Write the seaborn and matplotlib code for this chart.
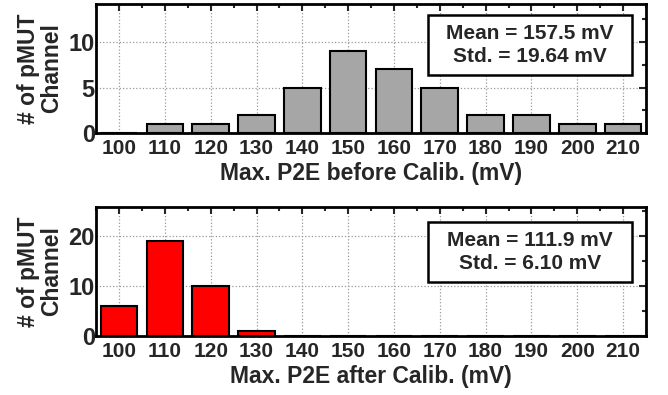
import matplotlib
matplotlib.use("Agg")
import matplotlib.pyplot as plt
from matplotlib.patches import Rectangle
from matplotlib.ticker import MultipleLocator
import seaborn as sns
import pandas as pd

# --- Data ---
bins_mv = [100, 110, 120, 130, 140, 150, 160, 170, 180, 190, 200, 210]
counts_before = [0, 1, 1, 2, 5, 9, 7, 5, 2, 2, 1, 1]
counts_after = [6, 19, 10, 1, 0, 0, 0, 0, 0, 0, 0, 0]
stats_before = "Mean = 157.5 mV\nStd. = 19.64 mV"
stats_after = "Mean = 111.9 mV\nStd. = 6.10 mV"

sns.set_style("white")
plt.rcParams['font.family'] = ['Liberation Sans', 'DejaVu Sans']
plt.rcParams['font.weight'] = 'bold'
plt.rcParams['axes.labelweight'] = 'bold'


def draw_panel(ax, counts, color, xlabel, ymax, ymajor, yminor, stats, box_y0):
    df = pd.DataFrame({'mv': bins_mv, 'n': counts})
    sns.barplot(data=df, x='mv', y='n', native_scale=True, width=0.8,
                color=color, edgecolor='black', linewidth=1.5,
                saturation=1, ax=ax)
    ax.set_xlim(95, 215)
    ax.set_ylim(0, ymax)
    ax.xaxis.set_major_locator(MultipleLocator(10))
    ax.xaxis.set_minor_locator(MultipleLocator(5))
    ax.yaxis.set_major_locator(MultipleLocator(ymajor))
    ax.yaxis.set_minor_locator(MultipleLocator(yminor))
    ax.grid(True, which='major', linestyle=':', color='#999999', linewidth=0.9)
    ax.set_axisbelow(True)
    ax.tick_params(which='both', direction='in', top=True, right=True, width=1.5)
    ax.tick_params(axis='x', labelsize=15, pad=4)
    ax.tick_params(axis='y', labelsize=17, pad=1)
    ax.tick_params(which='major', length=5)
    ax.tick_params(which='minor', length=3)
    for s in ax.spines.values():
        s.set_linewidth(2)
        s.set_color('black')
    ax.set_xlabel(xlabel, fontsize=16.5, labelpad=3)
    ax.set_ylabel("# of pMUT\nChannel", fontsize=16.5, labelpad=4,
                  linespacing=1.0)

    # stats box: white rectangle with the text centred in it
    bw, bh = 0.371, 0.465
    ax.add_patch(Rectangle((0.604, box_y0), bw, bh, transform=ax.transAxes,
                           facecolor='white', edgecolor='black',
                           linewidth=1.8, zorder=5))
    ax.text(0.604 + bw / 2, box_y0 + bh / 2, stats, transform=ax.transAxes,
            ha='center', va='center', fontsize=15, fontweight='bold',
            linespacing=1.25, zorder=6)


fig = plt.figure(figsize=(6.68, 3.95), dpi=100)
ax1 = fig.add_axes([0.144, 0.663, 0.823, 0.327])
ax2 = fig.add_axes([0.144, 0.149, 0.823, 0.327])

draw_panel(ax1, counts_before, '#A6A6A6', "Max. P2E before Calib. (mV)",
           14.2, 5, 2.5, stats_before, 0.45)
draw_panel(ax2, counts_after, '#FF0000', "Max. P2E after Calib. (mV)",
           25.8, 10, 5, stats_after, 0.419)

fig.savefig("out.png", dpi=100)
plt.close(fig)
